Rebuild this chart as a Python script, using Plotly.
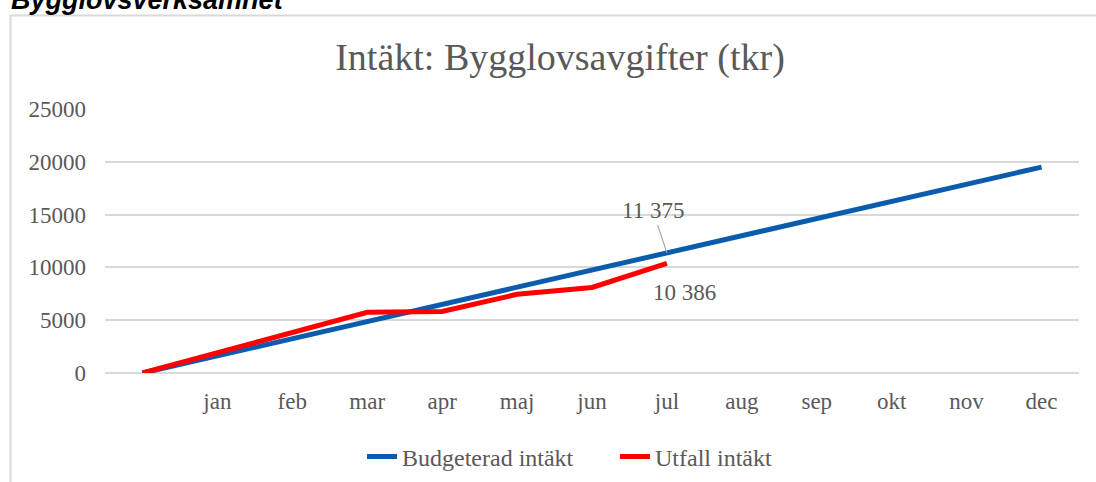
import plotly.graph_objects as go

categories = [" ", "jan", "feb", "mar", "apr", "maj", "jun", "jul", "aug", "sep", "okt", "nov", "dec"]
budget = [0, 1625, 3250, 4875, 6500, 8125, 9750, 11375, 13000, 14625, 16250, 17875, 19500]
utfall = [0, 1900, 3800, 5750, 5820, 7450, 8100, 10386]
y_ticks = [0, 5000, 10000, 15000, 20000, 25000]

W, H = 1096, 482
ML, MR, MT, MB = 105, 17, 109, 109
PW, PH = W - ML - MR, H - MT - MB

def px_x(p):
    return (p - ML) / PW

def px_y(p):
    return (H - MB - p) / PH

serif = "Liberation Serif, Times New Roman, serif"
gray = "#595959"

idx = list(range(len(categories)))

fig = go.Figure()
fig.add_trace(go.Scatter(x=idx, y=budget, mode="lines", name="Budgeterad intäkt",
                         line=dict(color="#0b5cad", width=5)))
fig.add_trace(go.Scatter(x=idx[:len(utfall)], y=utfall, mode="lines", name="Utfall intäkt",
                         line=dict(color="#ff0000", width=5)))

last_b = len(utfall) - 1
fig.add_annotation(x=last_b, y=budget[last_b], text=f"{budget[last_b]:,}".replace(",", " "),
                   showarrow=True, arrowhead=0, arrowwidth=1.2, arrowcolor="#a6a6a6",
                   ax=-14, ay=-42, standoff=0,
                   font=dict(family=serif, size=23, color=gray))
fig.add_annotation(x=last_b, y=utfall[last_b], text=f"{utfall[last_b]:,}".replace(",", " "),
                   showarrow=False, xshift=18, yshift=-29,
                   font=dict(family=serif, size=23, color=gray))

fig.add_annotation(xref="paper", yref="paper", x=px_x(9), y=px_y(0), xanchor="left", yanchor="middle",
                   text="<b><i>Bygglovsverksamhet</i></b>", showarrow=False,
                   font=dict(family="Liberation Sans, Arial, sans-serif", size=27, color="#000000"))

fig.add_shape(type="rect", xref="paper", yref="paper",
              x0=px_x(10.5), x1=px_x(1104), y0=px_y(15.5), y1=px_y(500),
              line=dict(color="#d9d9d9", width=2), fillcolor="rgba(0,0,0,0)", layer="below")

fig.update_layout(
    width=W, height=H,
    margin=dict(l=ML, r=MR, t=MT, b=MB),
    paper_bgcolor="white", plot_bgcolor="white",
    title=dict(text="Intäkt: Bygglovsavgifter (tkr)", x=560 / W, xref="container", xanchor="center",
               y=1 - 57 / H, yref="container", yanchor="middle",
               font=dict(family=serif, size=38, color=gray)),
    legend=dict(orientation="h", x=362 / W, xref="container", xanchor="left",
                y=1 - 457 / H, yref="container", yanchor="middle",
                font=dict(family=serif, size=24, color=gray),
                entrywidth=208, entrywidthmode="pixels",
                traceorder="normal"),
    showlegend=True,
)
fig.update_xaxes(range=[-0.5, len(categories) - 0.5], tickmode="array", tickvals=idx, ticktext=categories,
                 showgrid=False, zeroline=False, showline=False, ticks="",
                 tickfont=dict(family=serif, size=23, color=gray), ticklabelstandoff=12)
fig.update_yaxes(range=[0, 25000], tickmode="array", tickvals=y_ticks, tickformat="d",
                 showgrid=True, gridcolor="#d9d9d9", gridwidth=1.5,
                 zeroline=True, zerolinecolor="#d9d9d9", zerolinewidth=1.5, showline=False, ticks="",
                 tickfont=dict(family=serif, size=23, color=gray), ticklabelstandoff=18)

fig.write_html("out.html", config={"displayModeBar": False},
               post_script="document.body.style.margin='0';document.body.style.overflow='hidden';")
